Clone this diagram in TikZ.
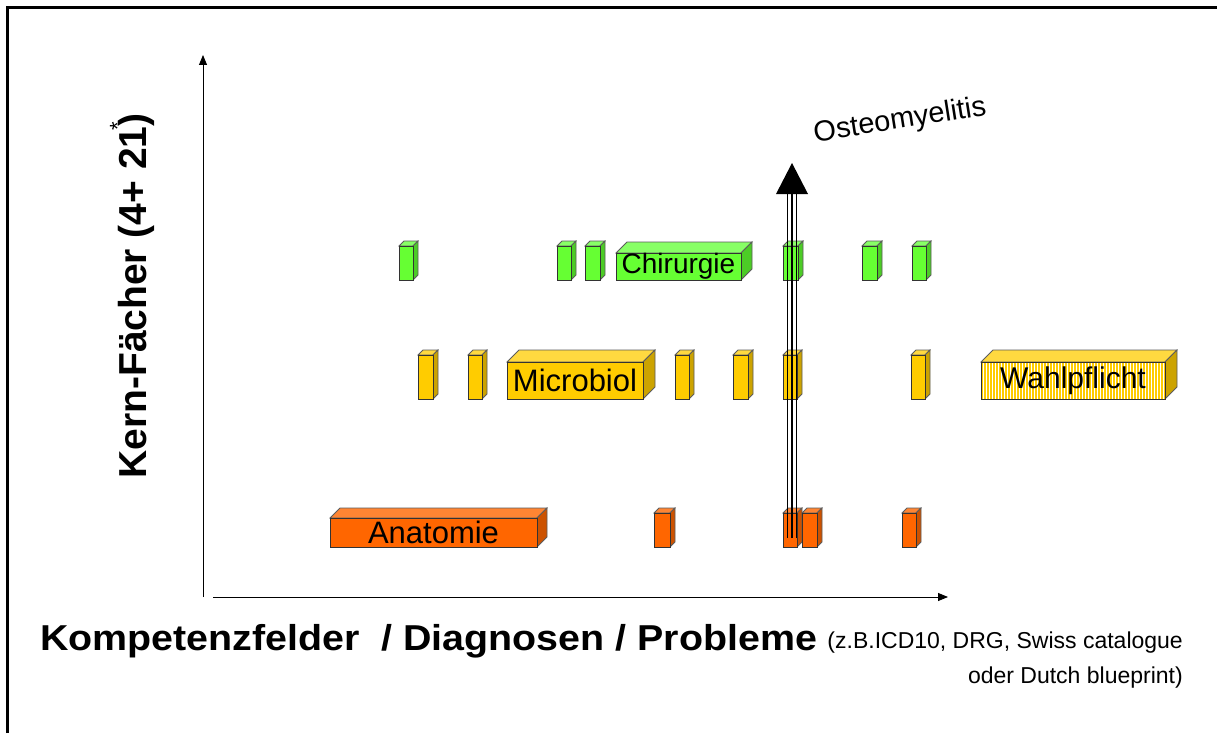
\documentclass[tikz,border=0pt]{standalone}
\usepackage{fontspec}
\setmainfont{Liberation Sans}
\usetikzlibrary{arrows.meta}
\newcommand\fs[1]{\fontsize{#1}{#1}\selectfont}
\definecolor{greenF}{HTML}{66FF33}
\definecolor{greenT}{HTML}{88FF66}
\definecolor{greenS}{HTML}{4CCC26}
\definecolor{yellowF}{HTML}{FFCC00}
\definecolor{yellowT}{HTML}{FFD940}
\definecolor{yellowS}{HTML}{CCA300}
\definecolor{orangeF}{HTML}{FF6600}
\definecolor{orangeT}{HTML}{FF8533}
\definecolor{orangeS}{HTML}{CC5200}
\definecolor{edge}{HTML}{333333}
\tikzset{
  face/.style={draw=edge, line width=.8pt, inner sep=0pt, font=\fs{30}},
  side/.style={draw=edge!80, line width=.8pt},
  axis/.style={line width=.9pt, -{Triangle[length=10pt,width=8pt]}},
  shaft/.style={line width=1.4pt},
  stripefill/.style={fill=white, path picture={
      \foreach \i in {0,3,...,186}
        \fill[yellowF] ([xshift=\i pt]path picture bounding box.south west) rectangle ++(1.7pt,40pt);}},
}
% #1 name, #2 x1, #3 y1, #4 x2, #5 y2 (front face), #6 depth, #7 colour, #8 options, #9 text
\newcommand\cuboid[9]{%
  \filldraw[side, fill=#7T] (#2,#3) -- ({#2+#6},{#3-#6}) -- ({#4+#6},{#3-#6}) -- (#4,#3) -- cycle;
  \filldraw[side, fill=#7S] (#4,#3) -- ({#4+#6},{#3-#6}) -- ({#4+#6},{#5-#6}) -- (#4,#5) -- cycle;
  \node[face, fill=#7F, minimum width={(#4-#2)*1pt}, minimum height={(#5-#3)*1pt}, #8]
    (#1) at ({(#2+#4)/2},{(#3+#5)/2}) {#9};}
\begin{document}
\begin{tikzpicture}[x=1pt, y=-1pt]
\useasboundingbox[fill=white] (0,0) rectangle (1217,733);
% frame
\draw[line width=3pt] (7,733) -- (7,8) -- (1220,8);
% axes
\coordinate (yA0) at (203,597);
\coordinate (yA1) at (203,55);
\coordinate (xA0) at (213,597);
\coordinate (xA1) at (948,597);
\draw[axis] (yA0) -- (yA1);
\draw[axis] (xA0) -- (xA1);
% axis labels
\node[rotate=90, font=\fs{39}\bfseries] (ylab) at (132,296)
  {Kern-Fächer (4+ 21\makebox[0pt][c]{\raisebox{21pt}{\fs{22}\mdseries *}})};
\node[anchor=base west, font=\fs{36}\bfseries, inner sep=0pt] (xlab) at (40,650)
  {\scalebox{1.094}[1]{Kompetenzfelder\ \ / Diagnosen / Probleme}};
\node[anchor=base east, font=\fs{23}, inner sep=0pt] (xnote1) at (1183,648)
  {(z.B.ICD10, DRG, Swiss catalogue};
\node[anchor=base east, font=\fs{23}, inner sep=0pt] (xnote2) at (1183,683)
  {oder Dutch blueprint)};
% green row
\cuboid{g1}{399}{246}{413}{280}{5}{green}{}{}
\cuboid{g2}{557}{246}{571}{280}{5}{green}{}{}
\cuboid{g3}{585}{246}{600}{280}{5}{green}{}{}
\cuboid{chir}{616}{253}{741}{280}{11}{green}{font=\fs{28}}{Chirurgie}
\cuboid{g5}{783}{246}{798}{280}{5}{green}{}{}
\cuboid{g6}{862}{246}{877}{280}{5}{green}{}{}
\cuboid{g7}{912}{246}{926}{280}{5}{green}{}{}
% yellow row
\cuboid{y1}{418}{355}{433}{399}{5}{yellow}{}{}
\cuboid{y2}{468}{355}{482}{399}{5}{yellow}{}{}
\cuboid{micro}{507}{362}{643}{399}{12}{yellow}{font=\fs{31}}{Microbiol}
\cuboid{y4}{675}{355}{689}{399}{5}{yellow}{}{}
\cuboid{y5}{733}{355}{748}{399}{5}{yellow}{}{}
\cuboid{y6}{783}{355}{797}{399}{5}{yellow}{}{}
\cuboid{y7}{911}{355}{925}{399}{5}{yellow}{}{}
\cuboid{wahl}{981}{362}{1165}{399}{12}{yellow}{stripefill, font=\fs{30}}{Wahlpflicht}
% orange row
\cuboid{anat}{330}{518}{537}{547}{10}{orange}{font=\fs{31}}{Anatomie}
\cuboid{o1}{654}{513}{670}{547}{5}{orange}{}{}
\cuboid{o2}{783}{513}{797}{547}{5}{orange}{}{}
\cuboid{o3}{802}{513}{817}{547}{5}{orange}{}{}
\cuboid{o4}{902}{513}{916}{547}{5}{orange}{}{}
% Osteomyelitis arrow
\coordinate (aBase) at (792,538);
\coordinate (aNeck) at (792,194);
\coordinate (aTip) at (792,163);
\foreach \dx in {-4.5,0,4.5}
  \draw[shaft] ([xshift=\dx pt]aBase) -- ([xshift=\dx pt]aNeck);
\fill ([xshift=-16pt]aNeck) -- (aTip) -- ([xshift=16pt]aNeck) -- cycle;
\node[rotate=9, font=\fs{29}] (osteo) at (900,121) {Osteomyelitis};
\end{tikzpicture}
\end{document}
